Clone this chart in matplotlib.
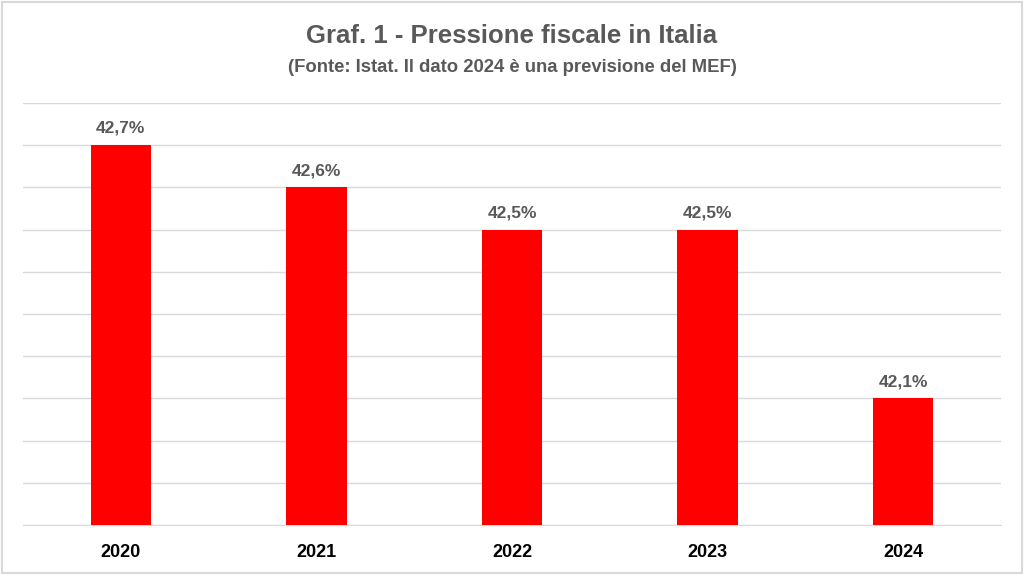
import matplotlib
matplotlib.use("Agg")
import matplotlib.pyplot as plt
from matplotlib.patches import Rectangle
import numpy as np

years = ['2020', '2021', '2022', '2023', '2024']
pressione = [42.7, 42.6, 42.5, 42.5, 42.1]
labels = ['42,7%', '42,6%', '42,5%', '42,5%', '42,1%']

plt.rcParams['font.family'] = ['Liberation Sans', 'DejaVu Sans']

fig = plt.figure(figsize=(10.24, 5.75), dpi=100)
ax = fig.add_axes([0.0225, 0.087, 0.955, 0.734])

x = np.arange(len(years))
ax.bar(x, [v - 41.8 for v in pressione], width=0.31, bottom=41.8, color='#ff0000', zorder=3)

for xi, v, lab in zip(x, pressione, labels):
    ax.text(xi, v + 0.022, lab, ha='center', va='bottom', fontsize=12.5,
            fontweight='bold', color='#595959')

ax.set_xlim(-0.5, 4.5)
ax.set_ylim(41.8, 42.8)
ax.set_yticks(np.arange(41.8, 42.85, 0.1))
ax.yaxis.grid(True, color='#d9d9d9', linewidth=1, zorder=0)
ax.tick_params(axis='y', left=False, labelleft=False)
ax.tick_params(axis='x', bottom=False, pad=10)
ax.set_xticks(x)
ax.set_xticklabels(years, fontsize=13, fontweight='bold', color='black')
for s in ['top', 'left', 'right']:
    ax.spines[s].set_visible(False)
ax.spines['bottom'].set_color('#d9d9d9')

fig.text(0.5, 0.938, 'Graf. 1 - Pressione fiscale in Italia', ha='center', va='center',
         fontsize=18.5, fontweight='bold', color='#595959')
fig.text(0.5, 0.882, '(Fonte: Istat. Il dato 2024 è una previsione del MEF)', ha='center',
         va='center', fontsize=13.3, fontweight='bold', color='#595959')

fig.patches.append(Rectangle((0.002, 0.003), 0.996, 0.994, transform=fig.transFigure,
                             fill=False, edgecolor='#d9d9d9', linewidth=1.5))

fig.savefig('out.png', dpi=100)
